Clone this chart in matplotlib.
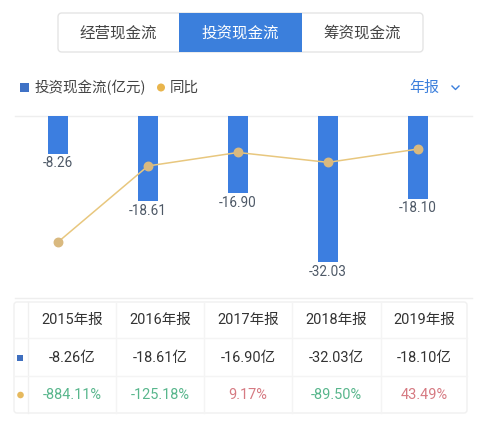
import matplotlib
matplotlib.use("Agg")
import matplotlib.pyplot as plt
from matplotlib.patches import FancyBboxPatch, Rectangle, Circle

# ---- data ----
years = ["2015年报", "2016年报", "2017年报", "2018年报", "2019年报"]
invest_cf = [-8.26, -18.61, -16.90, -32.03, -18.10]
yoy = [-884.11, -125.18, 9.17, -89.50, 43.49]
tabs = ["经营现金流", "投资现金流", "筹资现金流"]
legend_bar = "投资现金流(亿元)"
legend_line = "同比"
period_label = "年报"

W, H = 481, 423
DPI = 100
CJK = ["Noto Sans CJK SC", "DejaVu Sans"]
NUM = ["Roboto", "Noto Sans CJK SC", "DejaVu Sans"]
BLUE = "#3c7ee0"
GOLD_LINE = "#e8c77e"
GOLD_MK = "#d9b97f"
GREEN = "#58b68c"
RED = "#d67a82"
DARK = "#333333"
LABEL = "#4d5866"

fig = plt.figure(figsize=(W / DPI, H / DPI), dpi=DPI)
fig.patch.set_facecolor("white")

# overlay axes in pixel coordinates for UI elements
ui = fig.add_axes([0, 0, 1, 1], zorder=0)
ui.set_xlim(0, W)
ui.set_ylim(H, 0)
ui.axis("off")

def px(v):
    return v * 0.72  # px -> pt at 100 dpi

# segmented control
ui.add_patch(FancyBboxPatch((58, 13), 365, 39, boxstyle="round,pad=0,rounding_size=4",
                            fc="white", ec="#e4e4e4", lw=1))
ui.add_patch(Rectangle((179, 13), 123, 39, fc="#3b7fdc", ec="none"))
tab_x = [118, 240, 362]
for i, (t, x) in enumerate(zip(tabs, tab_x)):
    ui.text(x, 33, t, ha="center", va="center", fontsize=px(15.5), family=CJK,
            color="white" if i == 1 else "#444444")

# legend row
ui.add_patch(Rectangle((20, 83), 9, 9, fc="#3f72c6", ec="none"))
ui.text(35, 87.5, legend_bar, ha="left", va="center", fontsize=px(14.5), family=CJK, color="#444444")
ui.add_patch(Circle((161, 87.5), 4, fc="#e9b54c", ec="none"))
ui.text(170, 87.5, legend_line, ha="left", va="center", fontsize=px(14.5), family=CJK, color="#444444")
ui.text(424, 87.5, period_label, ha="center", va="center", fontsize=px(15), family=CJK, color="#3b7fdc")
ui.plot([452, 455.5, 459], [86, 89.5, 86], color="#3b7fdc", lw=1)

# chart gridlines
ui.plot([15, 472], [116, 116], color="#eeeeee", lw=1)
ui.plot([15, 472], [298, 298], color="#eeeeee", lw=1)

# table
tx0, tx1, ty0, ty1 = 14, 467, 302, 413
ui.add_patch(FancyBboxPatch((tx0, ty0), tx1 - tx0, ty1 - ty0, boxstyle="round,pad=0,rounding_size=3",
                            fc="white", ec="#f0f0f0", lw=1))
col_edges = [28, 116, 204, 292, 381, 467]
for xe in col_edges[1:-1]:
    ui.plot([xe, xe], [ty0, ty1], color="#f4f4f4", lw=1)
ui.plot([28, 28], [ty0, ty1], color="#f0f0f0", lw=1)
for ye in [338, 376]:
    ui.plot([tx0, tx1], [ye, ye], color="#f4f4f4", lw=1)
row_y = [320, 358, 395]
ui.add_patch(Rectangle((17.5, 355.5), 6, 6, fc="#3f6fbf", ec="none"))
ui.add_patch(Circle((20.5, 395), 3.3, fc="#e6b95e", ec="none"))
for i in range(len(years)):
    cx = (col_edges[i] + col_edges[i + 1]) / 2
    ui.text(cx, row_y[0], years[i], ha="center", va="center", fontsize=px(14.5),
            family=NUM, color=DARK)
    ui.text(cx, row_y[1], f"{invest_cf[i]:.2f}亿", ha="center", va="center",
            fontsize=px(14.5), family=NUM, color=DARK)
    ui.text(cx, row_y[2], f"{yoy[i]:.2f}%", ha="center", va="center",
            fontsize=px(14.5), family=NUM, color=GREEN if yoy[i] < 0 else RED)

# chart axes
ax_l, ax_r, ax_t, ax_b = 15, 472, 116, 298
ax = fig.add_axes([ax_l / W, 1 - ax_b / H, (ax_r - ax_l) / W, (ax_b - ax_t) / H], zorder=2)
ax.patch.set_alpha(0)
x = list(range(len(years)))
bars = ax.bar(x, invest_cf, width=0.22, color=BLUE, zorder=2)
ax.set_xlim(-43 / 90, 4 + 54 / 90)
ax.set_ylim(-39.8, 0)
for xi, v in zip(x, invest_cf):
    ax.annotate(f"{v:.2f}", (xi, v), xytext=(0, -px(9.5)), textcoords="offset points",
                ha="center", va="center", fontsize=px(13.5), family=NUM, color=LABEL)
ax.axis("off")

ax2 = ax.twinx()
ax2.set_ylim(-1442, 373)
ax2.plot(x, yoy, color=GOLD_LINE, lw=1.1, marker="o", markersize=px(8.5),
         markerfacecolor=GOLD_MK, markeredgecolor=GOLD_MK, zorder=3)
ax2.axis("off")

fig.savefig("out.png", dpi=DPI)
